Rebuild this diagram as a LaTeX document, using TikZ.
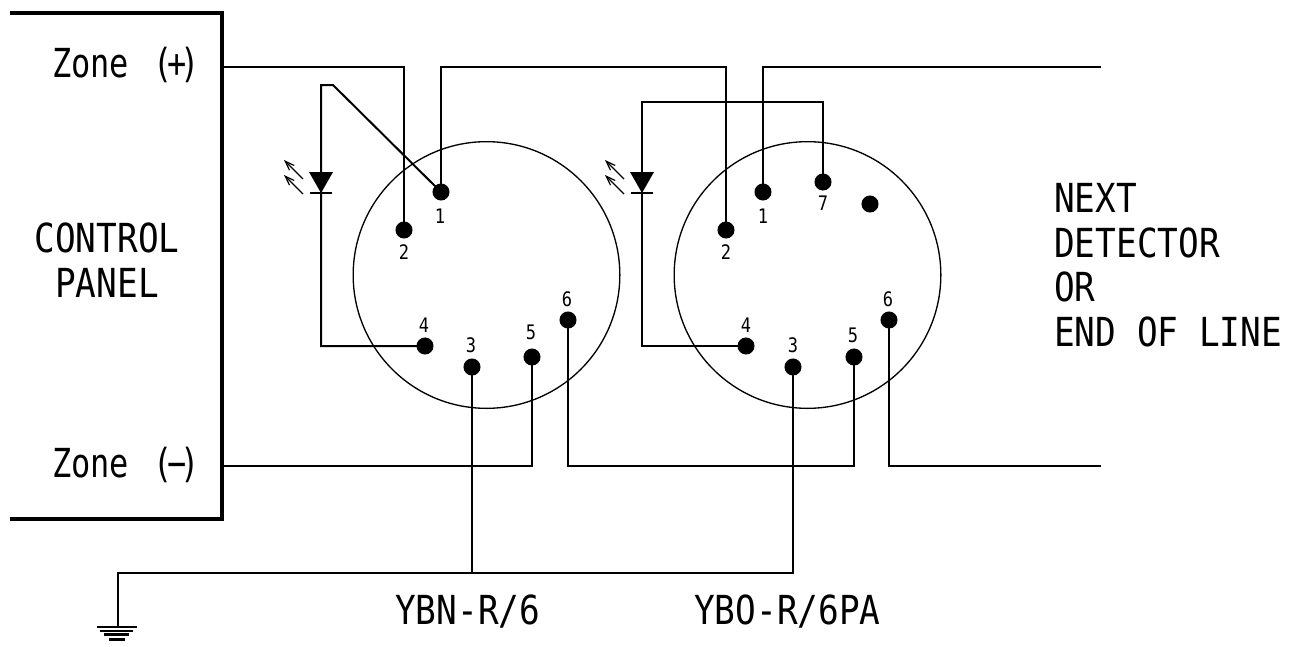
\documentclass[tikz,border=0pt]{standalone}
\usepackage{fontspec}
\setmonofont{DejaVu Sans Mono}
\usetikzlibrary{positioning,arrows.meta}
\tikzset{
  wire/.style={line width=1.5pt,line join=miter},
  pindot/.style={circle,fill=black,inner sep=0pt,minimum size=12.8pt},
  pinlbl/.style={inner sep=0pt,xscale=.85,font=\ttfamily\fontsize{15}{15}\selectfont},
  lbl/.style={inner sep=0pt,anchor=west,xscale=.86,font=\ttfamily\fontsize{30}{30}\selectfont},
  zonelbl/.style={lbl,xscale=.93},
  head/.style={circle,draw,line width=1pt,inner sep=0pt,minimum size=200pt},
  ray/.style={line width=.9pt,-{Straight Barb[length=7pt,width=5pt]}},
  earth/.style={line width=2.1pt},
}
\begin{document}
\begin{tikzpicture}[x=0.75pt,y=0.75pt,yscale=-1,xscale=1]
\useasboundingbox (0,0) rectangle (1301,646);

% Detector heads
\node [head] (head1) at (486.5,275) {};
\node [head] (head2) at (807.5,275) {};

% Control panel
\coordinate (pnltl) at (10,13);
\coordinate (pnlbl) at (10,519);
\coordinate (pnltr) at (222,13);
\coordinate (pnlbr) at (222,519);
\draw [line width=2.4pt] (pnltl) -- (pnltr) -- (pnlbr) -- (pnlbl);

% Pins of first head
\node [pindot] (a1) at (441,192) {};
\node [pindot] (a2) at (404,230) {};
\node [pindot] (a3) at (472,367) {};
\node [pindot] (a4) at (425,346) {};
\node [pindot] (a5) at (532,357) {};
\node [pindot] (a6) at (568,320) {};
% Pins of second head
\node [pindot] (b1) at (763,192) {};
\node [pindot] (b2) at (726,230) {};
\node [pindot] (b3) at (793,367) {};
\node [pindot] (b4) at (746,346) {};
\node [pindot] (b5) at (854,357) {};
\node [pindot] (b6) at (889,320) {};
\node [pindot] (b7) at (823,182) {};
\node [pindot] (b8) at (870,204) {};

% Pin numbers
\node [pinlbl] (la1) at (440,216) {1};
\node [pinlbl] (la2) at (404,252) {2};
\node [pinlbl] (la3) at (471,345) {3};
\node [pinlbl] (la4) at (424,325) {4};
\node [pinlbl] (la5) at (531,332) {5};
\node [pinlbl] (la6) at (567,299) {6};
\node [pinlbl] (lb1) at (763,216) {1};
\node [pinlbl] (lb2) at (726,252) {2};
\node [pinlbl] (lb3) at (793,345) {3};
\node [pinlbl] (lb4) at (746,325) {4};
\node [pinlbl] (lb5) at (853,335) {5};
\node [pinlbl] (lb6) at (888,299) {6};
\node [pinlbl] (lb7) at (823,203) {7};

% Zone (+) line
\coordinate (zp) at (222,67);
\coordinate (outp) at (1101,67);
\draw [wire] (zp) -| (a2.center);
\draw [wire] (a1.center) |- (441,67) -| (b2.center);
\draw [wire] (b1.center) |- (outp);

% Zone (-) line
\coordinate (zm) at (222,466);
\coordinate (outm) at (1101,466);
\draw [wire] (zm) -| (a5.center);
\draw [wire] (a6.center) |- (854,466) -- (b5.center);
\draw [wire] (b6.center) |- (outm);

% LED wiring
\draw [wire] (a1.center) -- (333,85) -- (321,85) |- (a4.center);
\draw [wire] (b7.center) |- (642,102) |- (b4.center);

% LEDs
\foreach \ledx/\n in {321/a,642/b}{
  \coordinate (led\n) at (\ledx,193);
  \fill (led\n) -- ++(-12,-21) -- ++(24,0) -- cycle;
  \draw [line width=1.2pt] ([xshift=-11 *0.75pt]led\n) -- ([xshift=11 *0.75pt]led\n);
  \draw [ray] ([shift={(-18,-14)}]led\n) -- ([shift={(-37,-33)}]led\n);
  \draw [ray] ([shift={(-18,1)}]led\n) -- ([shift={(-37,-18)}]led\n);
}

% Ground
\coordinate (gnd) at (118,627);
\draw [wire] (b3.center) |- (118,573) -- (gnd);
\draw [wire] (a3.center) -- (472,573);
\draw [earth] (97,627) -- (137,627);
\draw [earth] (100,631) -- (133,631);
\draw [earth] (104,634.5) -- (129,634.5);
\draw [earth] (109,639.5) -- (125,639.5);

% Text Node
\node [zonelbl] (zoneplus) at (52,65) {Zone\kern5pt{} (\kern-5.5pt+\kern-5.5pt)};
\node [zonelbl] (zoneminus) at (52,465) {Zone\kern5pt{} (\kern-5.5pt−\kern-5.5pt)};
\node [lbl,anchor=center] (ctrl) at (107,238) {CONTROL};
\node [lbl,anchor=center] (panel) at (107,283) {PANEL};
\node [lbl] (next) at (1054,198) {NEXT};
\node [lbl] (detector) at (1054,243) {DETECTOR};
\node [lbl] (orr) at (1054,287) {OR};
\node [lbl] (eol) at (1054,332) {END OF LINE};
\node [lbl] (ybn) at (395,612) {YBN-R/6};
\node [lbl] (ybo) at (694,612) {YBO-R/6PA};
\end{tikzpicture}
\end{document}
